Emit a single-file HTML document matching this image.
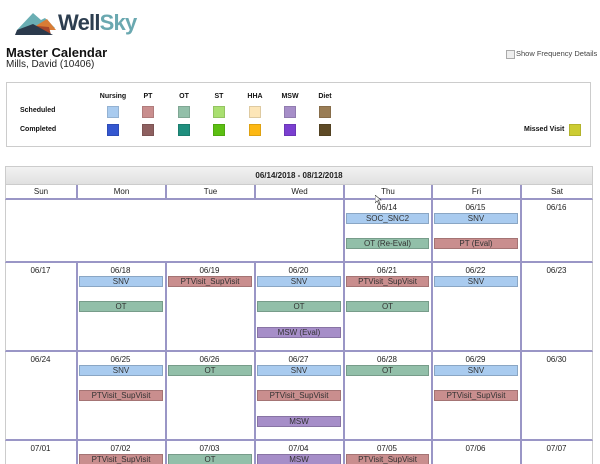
<!DOCTYPE html>
<html style="overflow:hidden;height:464px"><head><meta charset="utf-8"><style>
html,body{margin:0;width:600px;height:464px;overflow:hidden}
body{background:#fff;font-family:"Liberation Sans",Arial,sans-serif;position:relative}
.a{position:absolute}
.t{font-size:8px;color:#222;text-align:center}
.sw{position:absolute;width:12px;height:12px;box-sizing:border-box;border:1px solid rgba(0,0,0,.12)}
.ev{position:absolute;height:11px;box-sizing:border-box;font-size:8px;line-height:9px;text-align:center;color:#333;border:1px solid rgba(0,0,0,.18)}
.lb{font-size:7px;font-weight:bold;color:#111;position:absolute}
</style></head><body>
<svg class="a" style="left:15px;top:10px" width="45" height="28" viewBox="0 0 45 28">
<polygon points="2,20 18,3 26,10 30,8 40,18 20,20" fill="#6aaeb3"/>
<polygon points="14,20 32,9 41,20" fill="#d97c35"/>
<polygon points="22,16 34,17 36,25 27,24" fill="#a9462a"/>
<polygon points="2,20 18,14 38,25 0,25" fill="#2b3a4c"/>
</svg>
<div class="a" style="left:58px;top:10px;font-size:22px;font-weight:bold;letter-spacing:-0.8px"><span style="color:#2d3e50">Well</span><span style="color:#6aa8b0">Sky</span></div>
<div class="a" style="left:6px;top:45px;font-size:13px;font-weight:bold;color:#111">Master Calendar</div>
<div class="a" style="left:6px;top:59px;font-size:10px;color:#222">Mills, David (10406)</div>
<div class="a" style="left:506px;top:50px;width:7px;height:7px;border:1px solid #aaa;background:#eee"></div>
<div class="a" style="left:516px;top:49px;font-size:7.5px;color:#444">Show Frequency Details</div>
<div class="a" style="left:6px;top:82px;width:585px;height:65px;border:1px solid #ccc;box-sizing:border-box"></div>
<div id="legend"></div>
<div class="lb" style="left:524px;top:126px">Missed Visit</div>
<div class="sw" style="left:569px;top:124px;background:#cccc33"></div>
<div class="a" style="left:5px;top:166px;width:588px;height:19px;box-sizing:border-box;border:1px solid #ccc;background:linear-gradient(#f2f2f2,#e0e0e0);font-size:8px;font-weight:bold;text-align:center;line-height:17px;color:#222">06/14/2018 - 08/12/2018</div>
<div id="cal"></div>
<svg class="a" style="left:375px;top:195px" width="8" height="10"><polygon points="0,0 0,8 2,6 4,9 5,8 3,5 6,5" fill="#fff" stroke="#333" stroke-width="0.6"/></svg>
<script>
var categories=["Nursing","PT","OT","ST","HHA","MSW","Diet"];
var scheduledColors=["#a9cbef","#c98e8e","#92bfa9","#a9df70","#fde6b8","#a68ec8","#9a7d55"];
var completedColors=["#3457d0","#8e6060","#1f8f7e","#5cbf12","#fdb813","#7a3fd0","#5e4a26"];
var lg=document.getElementById('legend');
var lx=[101,136,172,207,243,278,313];
function add(parent,html,cls,style,name){var d=document.createElement('div');d.className=cls;d.setAttribute('style',style);d.innerHTML=html;


parent.appendChild(d);return d;}
add(lg,'Scheduled','lb','left:20px;top:107px','scheduled-label');
add(lg,'Completed','lb','left:20px;top:126px','completed-label');
categories.forEach(function(c,i){
 add(lg,c,'lb','left:'+(lx[i]-10)+'px;top:93px;width:44px;text-align:center','legend-'+c.toLowerCase()+'-label');
 add(lg,'','sw','left:'+(lx[i]+6)+'px;top:106px;background:'+scheduledColors[i],'legend-'+c.toLowerCase()+'-scheduled');
 add(lg,'','sw','left:'+(lx[i]+6)+'px;top:124px;background:'+completedColors[i],'legend-'+c.toLowerCase()+'-completed');
});
var days=["Sun","Mon","Tue","Wed","Thu","Fri","Sat"];
var colX=[5,76,165,254,343,431,520,593];
var rowY=[200,263,352,441,464];
var dates=[["","","","","06/14","06/15","06/16"],["06/17","06/18","06/19","06/20","06/21","06/22","06/23"],["06/24","06/25","06/26","06/27","06/28","06/29","06/30"],["07/01","07/02","07/03","07/04","07/05","07/06","07/07"]];
var events=[[0,4,0,"SOC_SNC2",0],[0,4,1,"OT (Re-Eval)",2],[0,5,0,"SNV",0],[0,5,1,"PT (Eval)",1],
[1,1,0,"SNV",0],[1,1,1,"OT",2],[1,2,0,"PTVisit_SupVisit",1],[1,3,0,"SNV",0],[1,3,1,"OT",2],[1,3,2,"MSW (Eval)",5],[1,4,0,"PTVisit_SupVisit",1],[1,4,1,"OT",2],[1,5,0,"SNV",0],
[2,1,0,"SNV",0],[2,1,1,"PTVisit_SupVisit",1],[2,2,0,"OT",2],[2,3,0,"SNV",0],[2,3,1,"PTVisit_SupVisit",1],[2,3,2,"MSW",5],[2,4,0,"OT",2],[2,5,0,"SNV",0],[2,5,1,"PTVisit_SupVisit",1],
[3,1,0,"PTVisit_SupVisit",1],[3,2,0,"OT",2],[3,3,0,"MSW",5],[3,4,0,"PTVisit_SupVisit",1]];
var cal=document.getElementById('cal');
var line='#9a96c6';
days.forEach(function(d,i){
 add(cal,d,'a t','left:'+colX[i]+'px;top:185px;width:'+(colX[i+1]-colX[i])+'px;height:15px;line-height:14px;box-sizing:border-box;border-bottom:2px solid '+line+';'+(i>0?'border-left:2px solid '+line+';':'border-left:1px solid #ccc;')+(i==6?'border-right:1px solid #ccc;':''),'day-header-'+d.toLowerCase());
});
for(var w=0;w<4;w++){for(var i=0;i<7;i++){
 var firstEmpty=(w==0&&i<4);
 var bb=(w<3)?'border-bottom:2px solid '+line+';':'';
 var st='left:'+colX[i]+'px;top:'+rowY[w]+'px;width:'+(colX[i+1]-colX[i])+'px;height:'+(rowY[w+1]-rowY[w])+'px;box-sizing:border-box;';
 if(!firstEmpty){st+=bb+(i>0?'border-left:2px solid '+line+';':'border-left:1px solid #ccc;')+(i==6?'border-right:1px solid #ccc;':'');}
 else{st+=bb+(i==0?'border-left:1px solid #ccc;':'');}
 add(cal,'','a',st,'day-cell-'+(dates[w][i]||'empty').replace('/','-'));
 if(dates[w][i]) add(cal,dates[w][i],'a t','left:'+colX[i]+'px;top:'+(rowY[w]+3)+'px;width:'+(colX[i+1]-colX[i])+'px','date-label-'+dates[w][i].replace('/','-'));
}}
var slotOff=[13,38,64];
events.forEach(function(e){
 var x0=colX[e[1]]+3,x1=colX[e[1]+1]-2;
 var d=document.createElement('div');d.className='ev';
 d.setAttribute('style','left:'+x0+'px;width:'+(x1-x0)+'px;top:'+(rowY[e[0]]+slotOff[e[2]])+'px;background:'+scheduledColors[e[4]]);
 d.textContent=e[3];
 
 
 cal.appendChild(d);
});
</script>
</body></html>
